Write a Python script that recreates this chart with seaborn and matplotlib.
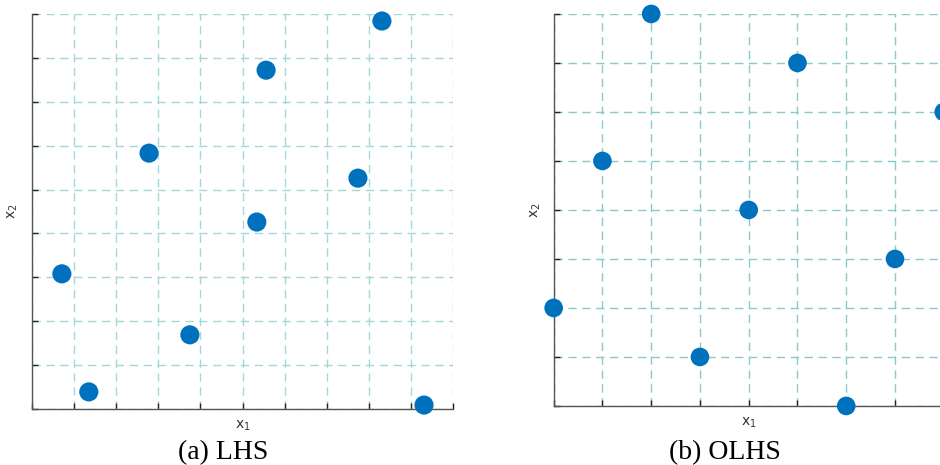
import numpy as np
import pandas as pd
import matplotlib
matplotlib.use("Agg")
import matplotlib.pyplot as plt
import seaborn as sns

# LHS sample (x range 0..10, y range 0..9 grid units)
lhs_x1 = [0.71, 1.35, 2.78, 3.75, 5.34, 5.56, 7.74, 8.31, 9.31]
lhs_x2 = [3.08, 0.39, 5.83, 1.69, 4.26, 7.72, 5.26, 8.84, 0.09]

# OLHS sample (levels 0..8)
olhs_x1 = [0, 1, 2, 3, 4, 5, 6, 7, 8]
olhs_x2 = [2, 5, 8, 1, 4, 7, 0, 3, 6]

captions = ["(a) LHS", "(b) OLHS"]

sns.set_style("white")
plt.rcParams['font.family'] = ['DejaVu Sans']

fig = plt.figure(figsize=(9.4, 4.65), dpi=100)
ax1 = fig.add_axes([0.034, 0.1204, 0.448, 0.8495])
ax2 = fig.add_axes([0.589, 0.127, 0.415, 0.843])

marker_color = "#0072BD"


def style_axes(ax, xmax, ymax, grid_c):
    ax.set_xlim(0, xmax)
    ax.set_ylim(0, ymax)
    ax.set_xticks(np.arange(0, xmax + 1))
    ax.set_yticks(np.arange(0, ymax + 1))
    ax.set_xticklabels([])
    ax.set_yticklabels([])
    ax.grid(True, color=grid_c, linestyle=(0, (6, 4)), linewidth=1.0)
    ax.set_axisbelow(True)
    for s in ["top", "right"]:
        ax.spines[s].set_visible(False)
    for s in ["left", "bottom"]:
        ax.spines[s].set_color("#555555")
        ax.spines[s].set_linewidth(1.0)
    ax.tick_params(axis="both", direction="in", length=4, width=1.0,
                   color="#222222", left=True, bottom=True)
    ax.set_xlabel("")
    ax.set_ylabel("")


df_lhs = pd.DataFrame({"x1": lhs_x1, "x2": lhs_x2})
sns.scatterplot(data=df_lhs, x="x1", y="x2", ax=ax1, s=190, color=marker_color,
                edgecolor="none", clip_on=False, zorder=5)
style_axes(ax1, 10, 9, "#a4d8d8")

df_olhs = pd.DataFrame({"x1": olhs_x1, "x2": olhs_x2})
sns.scatterplot(data=df_olhs, x="x1", y="x2", ax=ax2, s=180, color=marker_color,
                edgecolor="none", clip_on=False, zorder=5)
style_axes(ax2, 8, 8, "#8ccaca")

# axis labels (MATLAB-like small sans labels)
for ax in [ax1, ax2]:
    ax.text(0.5, -0.025, "x$_{1}$", transform=ax.transAxes, ha="center", va="top",
            fontsize=10, color="#333333")
    ax.text(-0.045, 0.5, "x$_{2}$", transform=ax.transAxes, ha="center", va="center",
            fontsize=10, color="#333333", rotation=90)

fig.text(223 / 940, 1 - 453 / 465, captions[0], ha="center", va="center",
         fontsize=20, family="Liberation Serif", color="black")
fig.text(725 / 940, 1 - 453 / 465, captions[1], ha="center", va="center",
         fontsize=20, family="Liberation Serif", color="black")

fig.savefig("out.png", dpi=100)
